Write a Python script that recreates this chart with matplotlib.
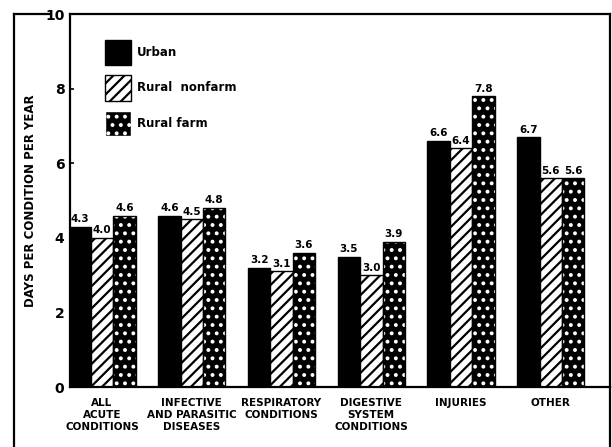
import numpy as np
import matplotlib.pyplot as plt
from matplotlib.patches import Patch
from matplotlib.lines import Line2D

categories = ["ALL\nACUTE\nCONDITIONS", "INFECTIVE\nAND PARASITIC\nDISEASES",
              "RESPIRATORY\nCONDITIONS", "DIGESTIVE\nSYSTEM\nCONDITIONS",
              "INJURIES", "OTHER"]
urban = [4.3, 4.6, 3.2, 3.5, 6.6, 6.7]
rural_nonfarm = [4.0, 4.5, 3.1, 3.0, 6.4, 5.6]
rural_farm = [4.6, 4.8, 3.6, 3.9, 7.8, 5.6]
series_names = ["Urban", "Rural  nonfarm", "Rural farm"]
yticks = [0, 2, 4, 6, 8, 10]

plt.rcParams['font.family'] = 'DejaVu Sans'
plt.rcParams['font.weight'] = 'bold'
plt.rcParams['hatch.linewidth'] = 1.6

fig = plt.figure(figsize=(6.12, 4.47), dpi=100)
ax = fig.add_axes([0.1144, 0.134, 0.8824, 0.8345])

x = np.arange(len(categories))
w = 0.25

# urban: solid black
ax.bar(x - w, urban, w, color='black', edgecolor='black', linewidth=1)
# rural nonfarm: white with diagonal stripes
ax.bar(x, rural_nonfarm, w, color='white', edgecolor='black', hatch='///', linewidth=1)
# rural farm: black with white dots
ax.bar(x + w, rural_farm, w, color='black', edgecolor='white', hatch='..', linewidth=0)
ax.bar(x + w, rural_farm, w, fill=False, edgecolor='black', linewidth=1)

for off, vals in [(-w, urban), (0, rural_nonfarm), (w, rural_farm)]:
    for xi, v in zip(x + off, vals):
        ax.text(xi, v + 0.07, f"{v:.1f}", ha='center', va='bottom',
                fontsize=7.5, fontweight='bold')

ax.set_ylim(0, 10)
ax.set_xlim(-0.357, 5.66)
ax.set_yticks(yticks)
ax.set_yticklabels([str(t) for t in yticks], fontsize=10, fontweight='bold')
ax.set_xticks(x)
ax.set_xticklabels(categories, fontsize=7.5, fontweight='bold', linespacing=1.25)
ax.tick_params(axis='x', length=0, pad=8)
ax.tick_params(axis='y', direction='in', length=3, width=1.2, pad=4)
ax.set_ylabel("DAYS PER CONDITION PER YEAR", fontsize=8.5, fontweight='bold')
ax.yaxis.set_label_coords(-0.061, 0.5)
for s in ax.spines.values():
    s.set_linewidth(1.6)

handles = [Patch(facecolor='black', edgecolor='black'),
           Patch(facecolor='white', edgecolor='black', hatch='///'),
           Patch(facecolor='black', edgecolor='white', hatch='..')]
leg = ax.legend(handles, series_names, loc='upper left', bbox_to_anchor=(0.045, 0.96),
                frameon=False, handlelength=2.2, handleheight=2.9, labelspacing=0.9,
                handletextpad=0.5, prop={'size': 8.5, 'weight': 'bold'})

# outer frame lines
fl = 14 / 612
ft = 1 - 14 / 447
fig.add_artist(Line2D([fl, fl], [ft, 0], color='black', lw=1.6))
fig.add_artist(Line2D([fl, 0.082], [ft, ft], color='black', lw=1.6))
fig.add_artist(Line2D([0.9968, 0.9968], [0.134, 0], color='black', lw=1.6))

fig.savefig("out.png", dpi=100)
